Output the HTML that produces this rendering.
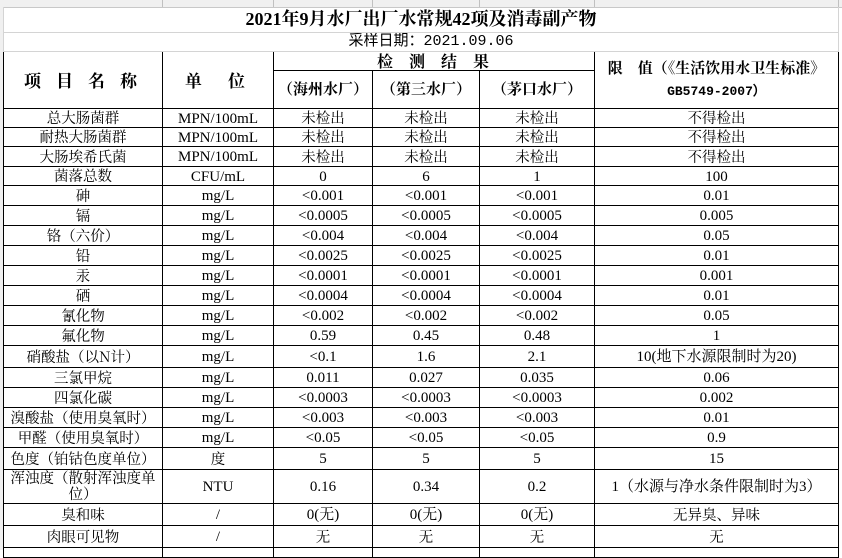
<!DOCTYPE html>
<html><head><meta charset="utf-8"><style>
body{margin:0;width:842px;height:550px;overflow:hidden;background:#fff;position:relative;font-family:"Liberation Serif","Noto Serif CJK SC",serif;}
.hdr{position:absolute;left:0;top:0;width:842px;height:7px;background:#f0f0f0;border-bottom:1px solid #c8c8c8;}
.gv{position:absolute;top:0;width:1px;height:7px;background:#c0c0c0}
.rh{position:absolute;left:0;top:7px;width:3px;height:543px;background:#f0f0f0;border-right:1px solid #c0c0c0}
table{position:absolute;left:3px;top:7px;border-collapse:collapse;table-layout:fixed;}
td{padding:2px 0 0 0;text-align:center;vertical-align:middle;font-size:15px;line-height:16px;overflow:hidden;white-space:nowrap;color:#000;border:1px solid #000;}
td.g{border:1px solid #d4d4d4;padding:0;}
.cjk{font-family:"Noto Serif CJK SC",serif;font-size:14.5px;padding-top:1px;}
.b{font-weight:bold;font-family:"Noto Serif CJK SC",serif;padding:0;}
</style></head><body>
<div class="hdr"></div>
<div class="gv" style="left:162px"></div><div class="gv" style="left:273px"></div><div class="gv" style="left:372px"></div><div class="gv" style="left:479px"></div><div class="gv" style="left:594px"></div><div class="gv" style="left:838px"></div>
<div class="rh"></div>
<table>
<colgroup><col style="width:159px"><col style="width:111px"><col style="width:99px"><col style="width:107px"><col style="width:115px"><col style="width:244px"></colgroup>
<tr style="height:25px"><td class="g" colspan="6" style="font-size:18px;font-weight:bold;border-top:none">2021年9月水厂出厂水常规42项及消毒副产物</td></tr>
<tr style="height:19px"><td class="g" colspan="6" style="font-family:'Liberation Mono','Noto Sans CJK SC',monospace;font-size:15px;padding-left:20px">采样日期：2021.09.06</td></tr>
<tr style="height:19px"><td rowspan="2" class="b" style="font-size:17px;letter-spacing:15px;padding-left:10px">项目名称</td><td rowspan="2" class="b" style="font-size:17px;letter-spacing:26px;padding-left:20px">单位</td><td colspan="3" class="b" style="font-size:16px;letter-spacing:16px;padding-left:14px">检测结果</td><td rowspan="2" class="b" style="font-size:15px;line-height:22px">限　值（《生活饮用水卫生标准》<br><span style="font-family:'Liberation Mono',monospace;font-size:13px">GB5749-2007）</span></td></tr>
<tr style="height:38px"><td class="b" style="font-size:15px">（海州水厂）</td><td class="b" style="font-size:15px">（第三水厂）</td><td class="b" style="font-size:15px">（茅口水厂）</td></tr>
<tr style="height:19px"><td class="cjk">总大肠菌群</td><td>MPN/100mL</td><td class="cjk">未检出</td><td class="cjk">未检出</td><td class="cjk">未检出</td><td class="cjk">不得检出</td></tr>
<tr style="height:19px"><td class="cjk">耐热大肠菌群</td><td>MPN/100mL</td><td class="cjk">未检出</td><td class="cjk">未检出</td><td class="cjk">未检出</td><td class="cjk">不得检出</td></tr>
<tr style="height:20px"><td class="cjk">大肠埃希氏菌</td><td>MPN/100mL</td><td class="cjk">未检出</td><td class="cjk">未检出</td><td class="cjk">未检出</td><td class="cjk">不得检出</td></tr>
<tr style="height:19px"><td class="cjk">菌落总数</td><td>CFU/mL</td><td>0</td><td>6</td><td>1</td><td>100</td></tr>
<tr style="height:20px"><td class="cjk">砷</td><td>mg/L</td><td>&lt;0.001</td><td>&lt;0.001</td><td>&lt;0.001</td><td>0.01</td></tr>
<tr style="height:20px"><td class="cjk">镉</td><td>mg/L</td><td>&lt;0.0005</td><td>&lt;0.0005</td><td>&lt;0.0005</td><td>0.005</td></tr>
<tr style="height:20px"><td class="cjk">铬（六价）</td><td>mg/L</td><td>&lt;0.004</td><td>&lt;0.004</td><td>&lt;0.004</td><td>0.05</td></tr>
<tr style="height:20px"><td class="cjk">铅</td><td>mg/L</td><td>&lt;0.0025</td><td>&lt;0.0025</td><td>&lt;0.0025</td><td>0.01</td></tr>
<tr style="height:20px"><td class="cjk">汞</td><td>mg/L</td><td>&lt;0.0001</td><td>&lt;0.0001</td><td>&lt;0.0001</td><td>0.001</td></tr>
<tr style="height:20px"><td class="cjk">硒</td><td>mg/L</td><td>&lt;0.0004</td><td>&lt;0.0004</td><td>&lt;0.0004</td><td>0.01</td></tr>
<tr style="height:20px"><td class="cjk">氰化物</td><td>mg/L</td><td>&lt;0.002</td><td>&lt;0.002</td><td>&lt;0.002</td><td>0.05</td></tr>
<tr style="height:20px"><td class="cjk">氟化物</td><td>mg/L</td><td>0.59</td><td>0.45</td><td>0.48</td><td>1</td></tr>
<tr style="height:22px"><td class="cjk">硝酸盐（以N计）</td><td>mg/L</td><td>&lt;0.1</td><td>1.6</td><td>2.1</td><td>10(地下水源限制时为20)</td></tr>
<tr style="height:20px"><td class="cjk">三氯甲烷</td><td>mg/L</td><td>0.011</td><td>0.027</td><td>0.035</td><td>0.06</td></tr>
<tr style="height:20px"><td class="cjk">四氯化碳</td><td>mg/L</td><td>&lt;0.0003</td><td>&lt;0.0003</td><td>&lt;0.0003</td><td>0.002</td></tr>
<tr style="height:20px"><td class="cjk">溴酸盐（使用臭氧时）</td><td>mg/L</td><td>&lt;0.003</td><td>&lt;0.003</td><td>&lt;0.003</td><td>0.01</td></tr>
<tr style="height:20px"><td class="cjk">甲醛（使用臭氧时）</td><td>mg/L</td><td>&lt;0.05</td><td>&lt;0.05</td><td>&lt;0.05</td><td>0.9</td></tr>
<tr style="height:22px"><td class="cjk">色度（铂钴色度单位）</td><td class="cjk">度</td><td>5</td><td>5</td><td>5</td><td>15</td></tr>
<tr style="height:34px"><td class="cjk" style="white-space:normal;line-height:16px;padding:0 4px">浑浊度（散射浑浊度单位）</td><td>NTU</td><td>0.16</td><td>0.34</td><td>0.2</td><td>1（水源与净水条件限制时为3）</td></tr>
<tr style="height:22px"><td class="cjk">臭和味</td><td>/</td><td>0(无)</td><td>0(无)</td><td>0(无)</td><td class="cjk">无异臭、异味</td></tr>
<tr style="height:22px"><td class="cjk">肉眼可见物</td><td>/</td><td class="cjk">无</td><td class="cjk">无</td><td class="cjk">无</td><td class="cjk">无</td></tr>
<tr style="height:10px"><td></td><td></td><td></td><td></td><td></td><td></td></tr>
</table>
</body></html>
